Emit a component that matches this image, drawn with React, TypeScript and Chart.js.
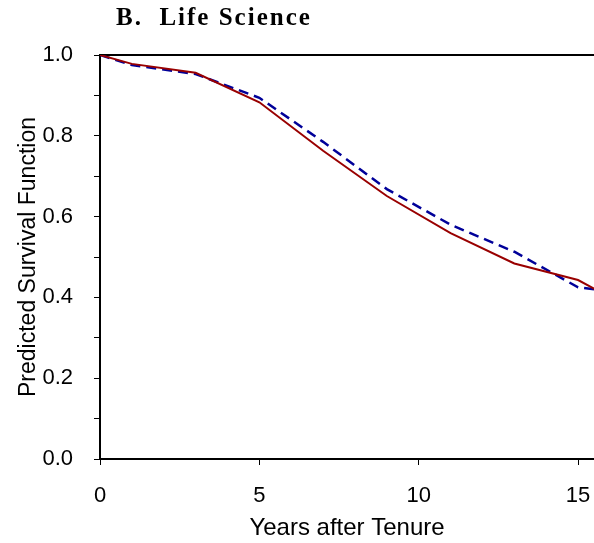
import React, { useEffect, useRef } from "react";
import { Chart, registerables } from "chart.js";

Chart.register(...registerables);

const TITLE = "B.  Life Science";
const X_TITLE = "Years after Tenure";
const Y_TITLE = "Predicted Survival Function";

const years = [0, 1, 3, 5, 7, 9, 11, 13, 15, 16];
const survivalSolid = [1.0, 0.978, 0.956, 0.883, 0.763, 0.651, 0.559, 0.484, 0.443, 0.4];
const survivalDashed = [1.0, 0.975, 0.953, 0.894, 0.785, 0.668, 0.58, 0.513, 0.425, 0.415];

const xTicks = [0, 5, 10, 15];
const X_MIN = 0;
const X_MAX = 15.5;
const Y_MIN = 0;
const Y_MAX = 1;

const SANS = "'Liberation Sans', Arial, sans-serif";

export default function App() {
  const canvasRef = useRef<HTMLCanvasElement | null>(null);

  useEffect(() => {
    if (!canvasRef.current) return;
    const toPts = (ys: number[]) => years.map((x, i) => ({ x, y: ys[i] }));
    const chart = new Chart(canvasRef.current, {
      type: "line",
      data: {
        datasets: [
          {
            data: toPts(survivalSolid),
            borderColor: "#990000",
            borderWidth: 2,
            pointRadius: 0,
            tension: 0,
            fill: false,
          },
          {
            data: toPts(survivalDashed),
            borderColor: "#000099",
            borderWidth: 2.5,
            borderDash: [10, 6],
            pointRadius: 0,
            tension: 0,
            fill: false,
          },
        ],
      },
      options: {
        animation: false,
        responsive: true,
        maintainAspectRatio: false,
        layout: { padding: 0 },
        plugins: {
          legend: { display: false },
          tooltip: { enabled: false },
          title: { display: false },
        },
        scales: {
          x: {
            type: "linear",
            position: "bottom",
            min: X_MIN,
            max: X_MAX,
            afterFit: (s: any) => {
              s.height = 84;
              s.paddingLeft = 0;
              s.paddingRight = 0;
            },
            afterBuildTicks: (s: any) => {
              s.ticks = xTicks.map((v) => ({ value: v }));
            },
            ticks: {
              includeBounds: false,
              color: "#000",
              padding: 18,
              maxRotation: 0,
              font: { family: SANS, size: 22 },
              callback: (v: any) => String(v),
            },
            grid: {
              drawOnChartArea: false,
              drawTicks: true,
              tickLength: 6,
              color: "#000",
              tickWidth: 1,
            },
            border: { display: true, color: "#000", width: 2 },
            title: {
              display: true,
              text: X_TITLE,
              color: "#000",
              font: { family: SANS, size: 24 },
              padding: { top: 0, bottom: 0 },
            },
          },
          xTop: {
            type: "linear",
            position: "top",
            display: true,
            min: X_MIN,
            max: X_MAX,
            afterFit: (s: any) => {
              s.height = 55;
              s.paddingLeft = 0;
              s.paddingRight = 0;
            },
            ticks: { display: false },
            grid: { display: false, drawTicks: false },
            border: { display: true, color: "#000", width: 2 },
          },
          y: {
            type: "linear",
            position: "left",
            min: Y_MIN,
            max: Y_MAX,
            afterFit: (s: any) => {
              s.width = 100;
              s.paddingTop = 0;
              s.paddingBottom = 0;
            },
            ticks: {
              stepSize: 0.1,
              color: "#000",
              padding: 21,
              font: { family: SANS, size: 22 },
              callback: (v: any) => {
                const n = Math.round(Number(v) * 10);
                return n % 2 === 0 ? (n / 10).toFixed(1) : "";
              },
            },
            grid: {
              drawOnChartArea: false,
              drawTicks: true,
              tickLength: 6,
              color: "#000",
              tickWidth: 1,
            },
            border: { display: true, color: "#000", width: 2 },
            title: {
              display: true,
              text: Y_TITLE,
              color: "#000",
              font: { family: SANS, size: 23 },
              padding: { top: 15, bottom: 0 },
            },
          },
        },
      },
    } as any);
    return () => chart.destroy();
  }, []);

  return (
    <div style={{ position: "absolute", left: 0, top: 0, width: 594, height: 543, background: "#fff" }}>
      <canvas ref={canvasRef} />
      <div
        style={{
          position: "absolute",
          left: 116,
          top: 4,
          fontFamily: "'Liberation Serif', 'Times New Roman', serif",
          fontWeight: "bold",
          fontSize: 25,
          lineHeight: "25px",
          letterSpacing: 2,
          whiteSpace: "pre",
          color: "#000",
        }}
      >
        {TITLE}
      </div>
    </div>
  );
}
